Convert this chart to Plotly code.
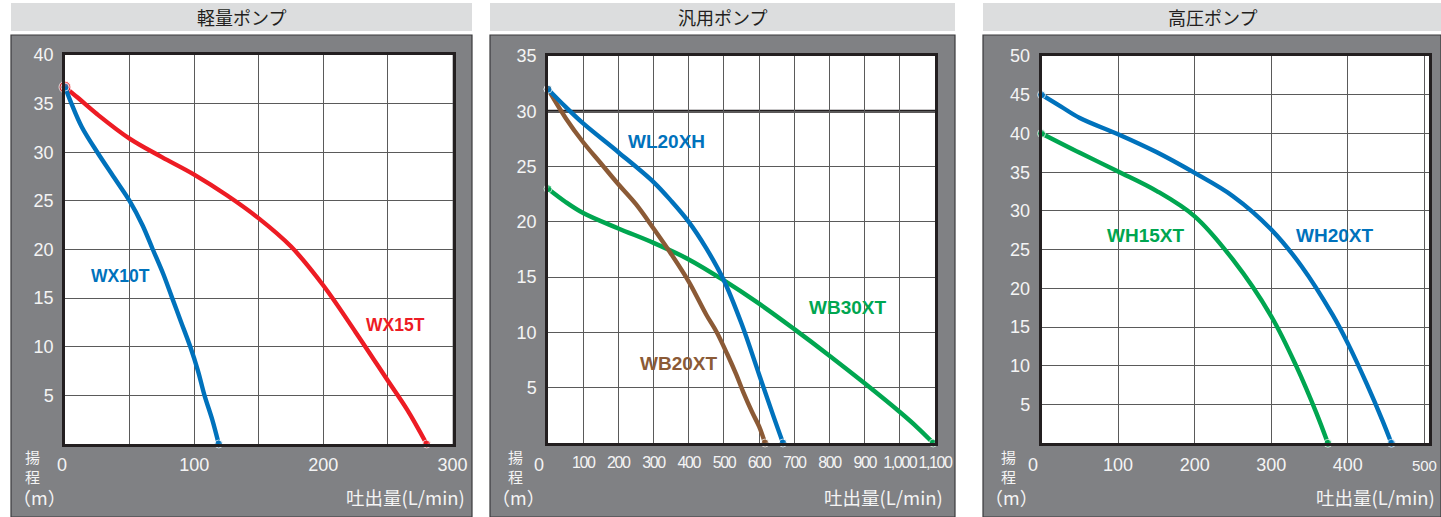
import plotly.graph_objects as go

W, H = 1441, 517

# ---------------- data ----------------
titles = ["軽量ポンプ", "汎用ポンプ", "高圧ポンプ"]
y_label = "揚<br>程"
y_unit = "（m）"
x_label = "吐出量(L/min)"

# Panel 1 (軽量ポンプ)
wx10t_q = [0, 5, 13, 25, 38, 50, 60, 68, 76, 83, 90, 97, 103, 108, 114, 119]
wx10t_h = [36.7, 35, 32.6, 30, 27.4, 25, 22.5, 20, 17.5, 15, 12.5, 10, 7.5, 5, 2.5, 0]
wx15t_q = [0, 10, 25, 50, 75, 100, 125, 150, 175, 200, 225, 250, 265, 280]
wx15t_h = [36.7, 35.6, 33.9, 31.4, 29.5, 27.7, 25.6, 23.2, 20.3, 16.3, 11.5, 6.5, 3.5, 0]

# Panel 2 (汎用ポンプ)
wl20xh_q = [0, 50, 100, 200, 300, 350, 400, 450, 500, 550, 600, 640, 668]
wl20xh_h = [32, 30.4, 28.9, 26.3, 23.6, 21.9, 20, 17.6, 14.7, 10.8, 6.2, 2.5, 0]
wb20xt_q = [0, 50, 100, 150, 200, 250, 300, 350, 400, 450, 480, 510, 535, 555, 580, 600, 617]
wb20xt_h = [32, 29.4, 27.2, 25.3, 23.4, 21.6, 19.4, 17.1, 14.6, 11.6, 10, 8, 6.2, 4.6, 2.8, 1.5, 0]
wb30xt_q = [0, 50, 100, 200, 300, 400, 500, 600, 700, 800, 900, 1000, 1050, 1095]
wb30xt_h = [23, 21.8, 20.8, 19.4, 18.1, 16.6, 14.7, 12.6, 10.3, 7.9, 5.4, 2.8, 1.4, 0]

# Panel 3 (高圧ポンプ)
wh20xt_q = [0, 25, 50, 100, 150, 200, 250, 300, 340, 380, 400, 425, 445, 457]
wh20xt_h = [45, 43.5, 42, 39.9, 37.6, 34.9, 31.9, 27.6, 22.8, 16.6, 12.9, 7.6, 3, 0]
wh15xt_q = [0, 50, 100, 150, 200, 250, 300, 333, 359, 374]
wh15xt_h = [40, 37.5, 35.1, 32.6, 29.3, 23.7, 16.4, 9.9, 3.9, 0]

# ticks
p1_xticks = [0, 50, 100, 150, 200, 250, 300]
p1_xtext = ["", "", "100", "", "200", "", "300"]
p1_yticks = [0, 5, 10, 15, 20, 25, 30, 35, 40]
p2_xticks = [0, 100, 200, 300, 400, 500, 600, 700, 800, 900, 1000, 1100]
p2_xtext = ["", "100", "200", "300", "400", "500", "600", "700", "800", "900", "1,000", "1,100"]
p2_yticks = [0, 5, 10, 15, 20, 25, 30, 35]
p3_xticks = [0, 100, 200, 300, 400, 500]
p3_xtext = ["", "100", "200", "300", "400", "<span style='font-size:15px'>500</span>"]
p3_yticks = [0, 5, 10, 15, 20, 25, 30, 35, 40, 45, 50]

# series labels (text, x, y)
labels1 = [("WX10T", 43, 17.3), ("WX15T", 256, 12.2)]
labels2 = [("WL20XH", 338, 27.3), ("WB20XT", 372, 7.2), ("WB30XT", 852, 12.3)]
labels3 = [("WH15XT", 136, 26.8), ("WH20XT", 383, 26.8)]

# ---------------- style ----------------
BLUE = "#0072bc"
RED = "#ed1c24"
GREEN = "#00a650"
BROWN = "#8b5a36"
PANEL = "#808184"
BAR = "#dcddde"
TICKC = "#f4f4f4"
GRID = "#5a5a5a"
FRAME = "#231f20"
LW = 4.4

def px(x):
    return x / W

def py(y):
    return 1 - y / H

fig = go.Figure()

def curve(q, h, color, xa, ya, end_size=8, start_size=8):
    fig.add_trace(go.Scatter(x=q, y=h, mode="lines", xaxis=xa, yaxis=ya,
                             line=dict(color=color, width=LW, shape="spline", smoothing=1.0),
                             hoverinfo="skip", showlegend=False, cliponaxis=False))
    fig.add_trace(go.Scatter(x=[q[0], q[-1]], y=[h[0], h[-1]], mode="markers", xaxis=xa, yaxis=ya,
                             marker=dict(color=color, size=[start_size, end_size]),
                             hoverinfo="skip", showlegend=False, cliponaxis=False))

# panel 1
curve(wx15t_q, wx15t_h, RED, "x", "y", start_size=12)
curve(wx10t_q, wx10t_h, BLUE, "x", "y")
# panel 2
curve(wb30xt_q, wb30xt_h, GREEN, "x2", "y2")
curve(wb20xt_q, wb20xt_h, BROWN, "x2", "y2")
curve(wl20xh_q, wl20xh_h, BLUE, "x2", "y2")
# panel 3
curve(wh15xt_q, wh15xt_h, GREEN, "x3", "y3")
curve(wh20xt_q, wh20xt_h, BLUE, "x3", "y3")

# panel geometry (pixels)
panels = [
    dict(x0=11, x1=472, px0=65, px1=452.5, pt=55, pb=444),
    dict(x0=490, x1=955, px0=548, px1=935, pt=56, pb=443),
    dict(x0=983, x1=1441, px0=1041.5, px1=1429, pt=56, pb=443.3),
]

shapes = []
for p in panels:
    shapes.append(dict(type="rect", xref="paper", yref="paper", layer="below",
                       x0=px(p["x0"]), x1=px(p["x1"]), y0=py(31), y1=py(3),
                       fillcolor=BAR, line=dict(width=0)))
    shapes.append(dict(type="rect", xref="paper", yref="paper", layer="below",
                       x0=px(p["x0"]), x1=px(p["x1"]), y0=py(517), y1=py(35),
                       fillcolor=PANEL, line=dict(width=1.2, color="#3a3a3c")))
    shapes.append(dict(type="rect", xref="paper", yref="paper", layer="below",
                       x0=px(p["px0"]), x1=px(p["px1"]), y0=py(p["pb"]), y1=py(p["pt"]),
                       fillcolor="white", line=dict(width=0)))
# emphasised 30 m line in panel 2
shapes.append(dict(type="line", xref="paper", yref="y2",
                   x0=px(panels[1]["px0"]), x1=px(panels[1]["px1"]), y0=30, y1=30,
                   layer="below", line=dict(color=FRAME, width=3)))

def xaxis(p, rng, tv, tt, font):
    return dict(domain=[px(p["px0"]), px(p["px1"])], range=rng, tickvals=tv, ticktext=tt,
                showgrid=True, gridcolor=GRID, gridwidth=1, zeroline=False,
                showline=True, mirror=True, linecolor=FRAME, linewidth=2.5,
                ticks="", tickfont=font, tickangle=0, ticklabelstandoff=3, fixedrange=True)

def yaxis(p, rng, tv, xa):
    return dict(domain=[py(p["pb"]), py(p["pt"])], range=rng, tickvals=tv,
                ticktext=["" if v == 0 else str(v) for v in tv], anchor=xa,
                showgrid=True, gridcolor=GRID, gridwidth=1, zeroline=False,
                showline=True, mirror=True, linecolor=FRAME, linewidth=2.5,
                ticks="", tickfont=dict(family="Liberation Sans, Arial", size=18, color=TICKC),
                ticklabelstandoff=5, fixedrange=True)

f18 = dict(family="Liberation Sans, Arial", size=18, color=TICKC)
fnarrow = dict(family="Liberation Sans Narrow, Arial Narrow, Liberation Sans", size=16, color=TICKC)
p2_xtext_styled = [f"<span style='letter-spacing:-1.4px'>{t}</span>" if t else t for t in p2_xtext]

layout = dict(
    width=W, height=H, margin=dict(l=0, r=0, t=0, b=0, autoexpand=False),
    paper_bgcolor="white", plot_bgcolor="rgba(0,0,0,0)",
    shapes=shapes,
    xaxis=xaxis(panels[0], [0, 300], p1_xticks, p1_xtext, f18),
    yaxis=yaxis(panels[0], [0, 40], p1_yticks, "x"),
    xaxis2=dict(xaxis(panels[1], [0, 1100], p2_xticks, p2_xtext_styled, fnarrow), anchor="y2"),
    yaxis2=yaxis(panels[1], [0, 35], p2_yticks, "x2"),
    xaxis3=dict(xaxis(panels[2], [0, 506], p3_xticks, p3_xtext, f18), anchor="y3"),
    yaxis3=yaxis(panels[2], [0, 50], p3_yticks, "x3"),
)
layout["xaxis"]["anchor"] = "y"

ann = []
cjk = "Noto Sans CJK JP"
title_x = [241, 722, 1212]
for t, cx in zip(titles, title_x):
    ann.append(dict(text=t, x=px(cx), y=py(17), xref="paper", yref="paper", showarrow=False,
                    font=dict(family=cjk, size=18, color=FRAME), xanchor="center", yanchor="middle"))

zero_x = [62, 539, 1033]
ylab_x = [32, 515, 1008]
unit_x = [39, 518, 1012]
xlab_r = [467, 945, 1437]
for zx, yx, ux, xr in zip(zero_x, ylab_x, unit_x, xlab_r):
    ann.append(dict(text="0", x=px(zx), y=py(465), xref="paper", yref="paper", showarrow=False,
                    font=f18, xanchor="center", yanchor="middle"))
    ann.append(dict(text=y_label, x=px(yx), y=py(466), xref="paper", yref="paper", showarrow=False,
                    font=dict(family=cjk, size=15, color=TICKC), xanchor="center", yanchor="middle"))
    ann.append(dict(text=y_unit, x=px(ux), y=py(497), xref="paper", yref="paper", showarrow=False,
                    font=dict(family=cjk, size=18, color=TICKC), xanchor="center", yanchor="middle"))
    ann.append(dict(text=x_label, x=px(xr), y=py(497), xref="paper", yref="paper", showarrow=False,
                    font=dict(family=cjk, size=18.5, color=TICKC), xanchor="right", yanchor="middle"))

lab_font = "Liberation Sans, Arial"
for (t, x, y), c in zip(labels1, [BLUE, RED]):
    ann.append(dict(text=f"<b>{t}</b>", x=x, y=y, xref="x", yref="y", showarrow=False,
                    font=dict(family=lab_font, size=17.5, color=c)))
for (t, x, y), c in zip(labels2, [BLUE, BROWN, GREEN]):
    ann.append(dict(text=f"<b>{t}</b>", x=x, y=y, xref="x2", yref="y2", showarrow=False,
                    font=dict(family=lab_font, size=19, color=c)))
for (t, x, y), c in zip(labels3, [GREEN, BLUE]):
    ann.append(dict(text=f"<b>{t}</b>", x=x, y=y, xref="x3", yref="y3", showarrow=False,
                    font=dict(family=lab_font, size=19, color=c)))
layout["annotations"] = ann

fig.update_layout(**layout)
fig.write_html(
    "out.html",
    config={"displayModeBar": False},
    post_script="document.documentElement.style.margin='0';document.body.style.margin='0';"
                "document.documentElement.style.overflow='hidden';document.body.style.overflow='hidden';",
)
